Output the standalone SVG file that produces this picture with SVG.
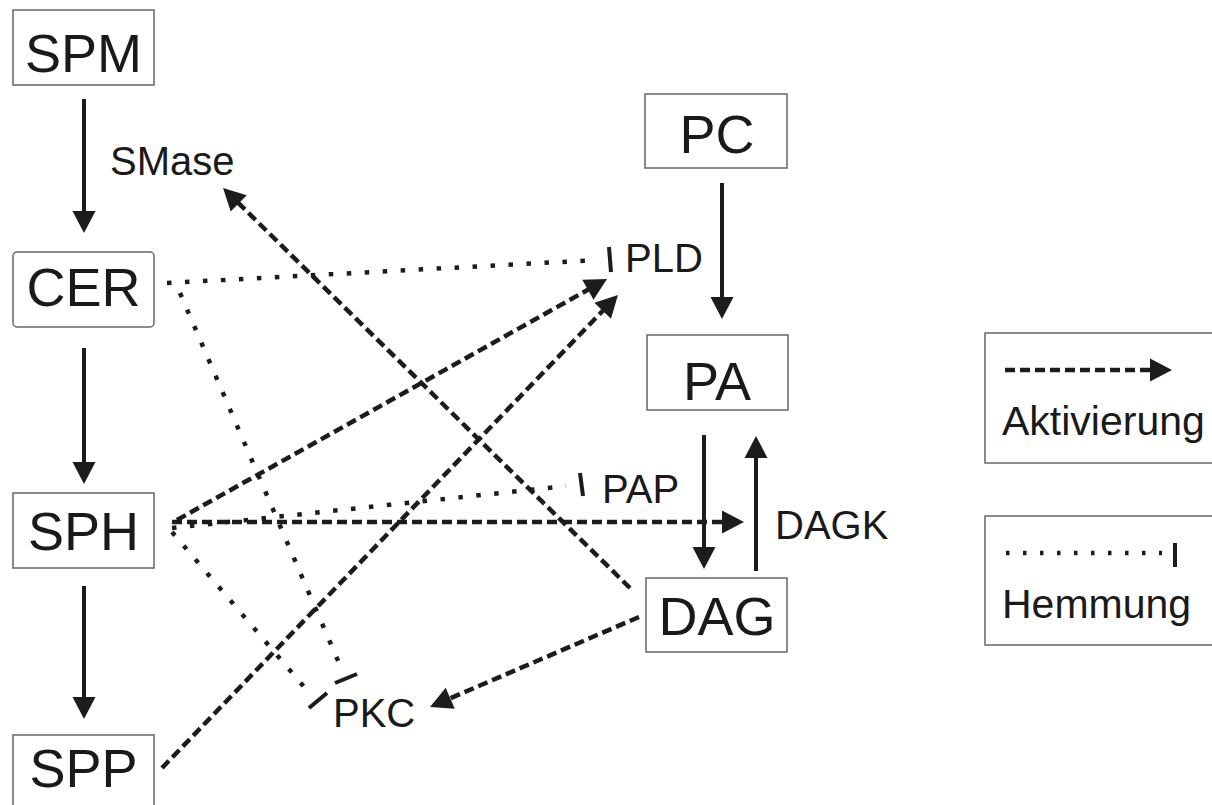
<svg xmlns="http://www.w3.org/2000/svg" width="1212" height="805" viewBox="0 0 1212 805">
  <style>
    .box { fill: #ffffff; stroke: #666666; stroke-width: 1.5; }
    .big { font-family: "Liberation Sans", Arial, sans-serif; font-size: 54px; fill: #1a1a1a; text-anchor: middle; }
    .lbl { font-family: "Liberation Sans", Arial, sans-serif; font-size: 40px; fill: #1a1a1a; }
    .solid { stroke: #1c1c1c; stroke-width: 4; fill: none; marker-end: url(#head); }
    .act { stroke: #1c1c1c; stroke-width: 4.5; fill: none; stroke-dasharray: 10 5; marker-end: url(#head); }
    .inh { stroke: #1c1c1c; stroke-width: 4.5; fill: none; stroke-dasharray: 4.5 13.5; }
    .bar { stroke: #1c1c1c; stroke-width: 4; fill: none; }
  </style>
  <defs>
    <marker id="head" markerUnits="userSpaceOnUse" markerWidth="24" markerHeight="24" refX="2" refY="11.5" orient="auto" overflow="visible">
      <path d="M0,0 L22,11.5 L0,23 z" fill="#1c1c1c"/>
    </marker>
  </defs>
  <rect width="1212" height="805" fill="#ffffff"/>

  <!-- sphingolipid column -->
  <g id="node-spm">
    <rect class="box" x="13" y="10" width="141" height="75"/>
    <text class="big" x="83.5" y="72">SPM</text>
  </g>
  <g id="node-cer">
    <rect class="box" x="13" y="252" width="141" height="75" rx="4"/>
    <text class="big" x="83.5" y="306">CER</text>
  </g>
  <g id="node-sph">
    <rect class="box" x="13" y="493" width="141" height="75"/>
    <text class="big" x="83.5" y="550">SPH</text>
  </g>
  <g id="node-spp">
    <rect class="box" x="13" y="735" width="141" height="80"/>
    <text class="big" x="83.5" y="787">SPP</text>
  </g>

  <!-- glycerolipid column -->
  <g id="node-pc">
    <rect class="box" x="645" y="94" width="142" height="74"/>
    <text class="big" x="717" y="153">PC</text>
  </g>
  <g id="node-pa">
    <rect class="box" x="647" y="335" width="141" height="75"/>
    <text class="big" x="717" y="400">PA</text>
  </g>
  <g id="node-dag">
    <rect class="box" x="646" y="578" width="141" height="74"/>
    <text class="big" x="717" y="635">DAG</text>
  </g>

  <!-- enzyme labels -->
  <g id="label-smase"><text class="lbl" x="110" y="175">SMase</text></g>
  <g id="label-pld"><text class="lbl" x="625" y="272">PLD</text></g>
  <g id="label-pap"><text class="lbl" x="602" y="503">PAP</text></g>
  <g id="label-dagk"><text class="lbl" x="775" y="539">DAGK</text></g>
  <g id="label-pkc"><text class="lbl" x="333" y="727">PKC</text></g>

  <!-- legend -->
  <g id="legend-activation">
    <rect class="box" x="985" y="333" width="235" height="130"/>
    <line class="act" x1="1005" y1="370" x2="1152" y2="370"/>
    <text class="lbl" x="1002" y="435" style="font-size:41px">Aktivierung</text>
  </g>
  <g id="legend-inhibition">
    <rect class="box" x="985" y="516" width="235" height="129"/>
    <line class="inh" x1="1006" y1="553" x2="1162" y2="553" style="stroke-dasharray:3.5 13.5"/>
    <line class="bar" x1="1175" y1="543" x2="1175" y2="567"/>
    <text class="lbl" x="1002" y="618" style="font-size:41px">Hemmung</text>
  </g>

  <g id="connectors">
    <!-- conversions -->
    <line class="solid" x1="84" y1="99" x2="84" y2="213"/>
    <line class="solid" x1="84" y1="348" x2="84" y2="464"/>
    <line class="solid" x1="84" y1="586" x2="84" y2="699"/>
    <line class="solid" x1="722" y1="183" x2="722" y2="299"/>
    <line class="solid" x1="704" y1="435" x2="704" y2="549"/>
    <line class="solid" x1="756" y1="571" x2="756" y2="456"/>

    <!-- activations -->
    <line class="act" x1="172" y1="522" x2="724" y2="522"/>
    <line class="act" x1="177" y1="520" x2="589.6" y2="288.8"/>
    <line class="act" x1="162" y1="768" x2="604.1" y2="309.4"/>
    <line class="act" x1="630" y1="588" x2="237.3" y2="202"/>
    <line class="act" x1="639" y1="617" x2="448.4" y2="699.1"/>

    <!-- inhibitions -->
    <line class="inh" x1="167" y1="283" x2="598" y2="260"/>
    <line class="bar" x1="609" y1="247" x2="611" y2="272"/>

    <line class="inh" x1="180" y1="293" x2="342" y2="670"/>
    <line class="bar" x1="335" y1="683" x2="357" y2="674"/>

    <line class="inh" x1="172" y1="528" x2="566" y2="486"/>
    <line class="bar" x1="580" y1="473" x2="583" y2="496"/>

    <line class="inh" x1="172" y1="532" x2="305" y2="688"/>
    <line class="bar" x1="309" y1="708" x2="327" y2="693"/>
  </g>
</svg>
